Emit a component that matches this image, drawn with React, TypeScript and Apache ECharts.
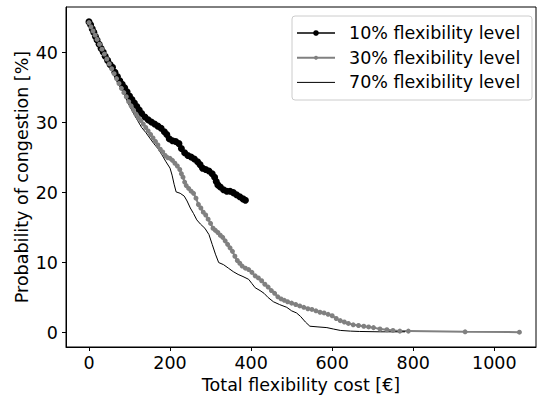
import React, { useEffect, useRef } from "react";
import * as echarts from "echarts";

const xTicks = [0, 200, 400, 600, 800, 1000];
const yTicks = [0, 10, 20, 30, 40];

const cost10 = [0, 4, 8, 12, 16, 20, 25, 30, 35, 40, 46, 52, 58, 64, 70, 76, 82, 88, 94, 100, 106, 112, 118, 124, 130, 138, 146, 154, 162, 170, 178, 186, 192, 198, 206, 214, 222, 228, 236, 244, 252, 260, 268, 274, 280, 288, 296, 304, 310, 314, 318, 324, 332, 340, 348, 356, 364, 372, 380, 386];
const prob10 = [44.4, 44.0, 43.4, 42.9, 42.3, 41.8, 41.2, 40.6, 40.1, 39.5, 38.9, 38.3, 37.9, 37.2, 36.6, 36.0, 35.5, 35.0, 34.4, 33.8, 33.3, 32.8, 32.3, 31.8, 31.3, 30.8, 30.4, 30.1, 29.8, 29.5, 29.2, 28.7, 28.3, 27.7, 27.4, 27.3, 27.0, 26.3, 25.7, 25.3, 25.1, 24.8, 24.4, 24.0, 23.5, 23.3, 23.1, 22.7, 22.2, 21.6, 21.1, 20.8, 20.4, 20.2, 20.2, 20.0, 19.7, 19.4, 19.1, 18.9];

const cost30 = [0, 5, 10, 15, 20, 26, 32, 38, 44, 50, 56, 62, 68, 74, 80, 86, 92, 98, 104, 110, 116, 122, 128, 134, 140, 146, 152, 158, 164, 170, 176, 182, 188, 194, 200, 206, 212, 218, 224, 228, 232, 236, 240, 246, 252, 258, 264, 270, 276, 282, 288, 294, 300, 306, 312, 318, 324, 330, 336, 342, 348, 354, 360, 366, 372, 378, 386, 394, 402, 410, 418, 426, 434, 442, 450, 458, 466, 474, 482, 490, 500, 510, 520, 530, 540, 550, 560, 570, 580, 590, 600, 610, 620, 630, 640, 652, 665, 678, 690, 702, 718, 735, 750, 767, 788, 928, 1062];
const prob30 = [44.3, 43.7, 43.1, 42.5, 41.9, 41.2, 40.5, 39.8, 39.1, 38.4, 37.7, 37.0, 36.3, 35.6, 34.9, 34.3, 33.7, 33.0, 32.4, 31.8, 31.2, 30.7, 30.3, 29.8, 29.3, 28.8, 28.3, 27.8, 27.3, 26.8, 26.2, 25.8, 25.3, 25.0, 24.9, 24.6, 24.2, 23.8, 23.3, 22.7, 22.2, 21.5, 21.0, 20.6, 20.2, 19.9, 19.2, 18.3, 17.8, 17.2, 16.8, 16.2, 15.6, 14.9, 14.6, 14.3, 13.9, 13.6, 13.1, 12.6, 12.1, 11.6, 10.9, 10.3, 9.9, 9.5, 9.2, 9.0, 8.6, 8.1, 7.8, 7.4, 6.9, 6.5, 6.0, 5.6, 5.1, 4.8, 4.6, 4.4, 4.2, 4.0, 3.8, 3.6, 3.4, 3.3, 3.1, 2.9, 2.8, 2.6, 2.4, 2.0, 1.7, 1.5, 1.3, 1.1, 1.0, 0.9, 0.8, 0.7, 0.5, 0.4, 0.3, 0.2, 0.2, 0.1, 0.05];

const cost70 = [0, 10, 20, 30, 40, 50, 60, 70, 80, 90, 100, 110, 120, 130, 140, 150, 160, 170, 180, 190, 200, 205, 210, 215, 225, 235, 242, 250, 258, 266, 275, 286, 296, 304, 312, 320, 332, 344, 356, 368, 380, 394, 402, 410, 422, 432, 442, 455, 470, 488, 500, 512, 522, 534, 545, 565, 587, 603, 620, 645, 668, 720, 780];
const prob70 = [44.3, 43.2, 42.0, 40.8, 39.6, 38.4, 37.2, 36.0, 34.8, 33.6, 32.4, 31.3, 30.3, 29.3, 28.6, 27.8, 27.0, 26.3, 25.4, 24.4, 23.5, 22.5, 21.2, 20.1, 19.9, 19.5, 18.8, 17.8, 17.0, 16.1, 15.5, 14.9, 14.0, 12.6, 11.2, 10.0, 9.7, 9.2, 8.7, 8.3, 8.0, 7.6, 7.0, 6.4, 6.0, 5.6, 5.0, 4.4, 4.0, 3.6, 3.1, 2.8, 2.3, 1.5, 0.9, 0.8, 0.7, 0.5, 0.3, 0.2, 0.15, 0.1, 0.1];

const seriesNames = ["10% flexibility level", "30% flexibility level", "70% flexibility level"];

const pairs = (xs: number[], ys: number[]) => xs.map((x, i) => [x, ys[i]]);

const FONT = "DejaVu Sans";
const FS = 17.5;

const legendStyles = [
  { color: "#000", width: 1.5, r: 2.8 },
  { color: "#808080", width: 2, r: 2 },
  { color: "#000", width: 1, r: 0 },
];
const legendRows = [33, 57.7, 82.4];

function legendGraphic() {
  const children: any[] = [
    {
      type: "rect",
      shape: { x: 292, y: 16, width: 240, height: 84, r: 3 },
      style: { fill: "rgba(255,255,255,0.8)", stroke: "#cccccc", lineWidth: 1 },
    },
  ];
  seriesNames.forEach((name, i) => {
    const y = legendRows[i];
    const st = legendStyles[i];
    children.push({
      type: "line",
      shape: { x1: 297, y1: y, x2: 335, y2: y },
      style: { stroke: st.color, lineWidth: st.width },
    });
    if (st.r > 0) {
      children.push({
        type: "circle",
        shape: { cx: 316, cy: y, r: st.r },
        style: { fill: st.color },
      });
    }
    children.push({
      type: "text",
      x: 349,
      y: y,
      style: {
        text: name,
        font: `${FS}px "${FONT}"`,
        fill: "#000",
        verticalAlign: "middle",
        align: "left",
      },
    });
  });
  return [{ type: "group", children }];
}

export default function App() {
  const ref = useRef<HTMLDivElement>(null);
  useEffect(() => {
    if (!ref.current) return;
    const chart = echarts.init(ref.current, undefined, { renderer: "svg" });
    chart.setOption({
      animation: false,
      backgroundColor: "#ffffff",
      textStyle: { fontFamily: FONT },
      grid: {
        left: 66,
        top: 7,
        width: 470,
        height: 341,
        show: true,
        borderColor: "#000",
        borderWidth: 1,
        backgroundColor: "transparent",
      },
      xAxis: {
        type: "value",
        min: -56.7,
        max: 1102.9,
        splitLine: { show: false },
        axisLine: { show: true, onZero: false, lineStyle: { color: "#000", width: 1 } },
        axisTick: { show: true, length: 4, customValues: xTicks, lineStyle: { color: "#000" } },
        axisLabel: {
          customValues: xTicks,
          fontSize: FS,
          color: "#000",
          fontFamily: FONT,
          margin: 7,
          formatter: (v: number) => String(v),
        },
        name: "Total flexibility cost [€]",
        nameLocation: "middle",
        nameGap: 29,
        nameMoveOverlap: false,
        nameTextStyle: { fontSize: FS, color: "#000", fontFamily: FONT },
      },
      yAxis: {
        type: "value",
        min: -2.07,
        max: 46.53,
        splitLine: { show: false },
        axisLine: { show: true, onZero: false, lineStyle: { color: "#000", width: 1 } },
        axisTick: { show: true, length: 4, customValues: yTicks, lineStyle: { color: "#000" } },
        axisLabel: {
          customValues: yTicks,
          fontSize: FS,
          color: "#000",
          fontFamily: FONT,
          margin: 8,
          formatter: (v: number) => String(v),
        },
        name: "Probability of congestion [%]",
        nameLocation: "middle",
        nameGap: 35,
        nameMoveOverlap: false,
        nameTextStyle: { fontSize: FS, color: "#000", fontFamily: FONT },
      },
      graphic: legendGraphic(),
      series: [
        {
          name: seriesNames[0],
          type: "line",
          data: pairs(cost10, prob10),
          symbol: "circle",
          symbolSize: 7,
          showSymbol: true,
          lineStyle: { color: "#000", width: 1.5 },
          itemStyle: { color: "#000" },
        },
        {
          name: seriesNames[1],
          type: "line",
          data: pairs(cost30, prob30),
          symbol: "circle",
          symbolSize: 5,
          showSymbol: true,
          lineStyle: { color: "#808080", width: 2 },
          itemStyle: { color: "#808080" },
        },
        {
          name: seriesNames[2],
          type: "line",
          data: pairs(cost70, prob70),
          symbol: "none",
          showSymbol: false,
          lineStyle: { color: "#000", width: 1 },
          itemStyle: { color: "#000" },
        },
      ],
    });
    return () => chart.dispose();
  }, []);
  return (
    <div
      ref={ref}
      style={{ position: "absolute", left: 0, top: 0, width: 537, height: 399 }}
    />
  );
}
